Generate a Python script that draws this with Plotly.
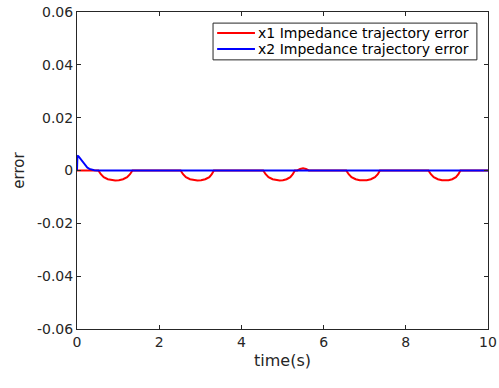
import plotly.graph_objects as go

# x1 impedance trajectory error (red)
t1 = [0, 0.52, 0.58, 0.65, 0.75, 0.85, 0.93, 1.02, 1.12, 1.22, 1.29, 1.35,
      2.52, 2.58, 2.65, 2.75, 2.85, 2.93, 3.02, 3.12, 3.22, 3.28, 3.33,
      4.53, 4.59, 4.66, 4.76, 4.86, 4.93, 5.01, 5.10, 5.19, 5.25, 5.30,
      5.36, 5.43, 5.50, 5.57, 5.64,
      6.55, 6.61, 6.68, 6.78, 6.88, 6.96, 7.05, 7.15, 7.25, 7.32, 7.37,
      8.55, 8.61, 8.68, 8.78, 8.88, 8.95, 9.04, 9.13, 9.22, 9.28, 9.33,
      10]
e1 = [0, 0, -0.0014, -0.0025, -0.0033, -0.0037, -0.0038, -0.0037, -0.0033, -0.0025, -0.0014, 0,
      0, -0.0014, -0.0025, -0.0033, -0.0037, -0.0038, -0.0037, -0.0033, -0.0025, -0.0014, 0,
      0, -0.0014, -0.0025, -0.0033, -0.0037, -0.0038, -0.0037, -0.0033, -0.0025, -0.0014, 0,
      0, 0.0006, 0.0008, 0.0006, 0,
      0, -0.0014, -0.0025, -0.0033, -0.0037, -0.0038, -0.0037, -0.0033, -0.0025, -0.0014, 0,
      0, -0.0014, -0.0025, -0.0033, -0.0037, -0.0038, -0.0037, -0.0033, -0.0025, -0.0014, 0,
      0]

# x2 impedance trajectory error (blue)
t2 = [0, 0.01, 0.04, 0.08, 0.12, 0.16, 0.2, 0.25, 0.3, 0.36, 0.42, 0.5, 10]
e2 = [0, 0.0056, 0.0053, 0.0045, 0.0035, 0.0026, 0.0018, 0.0011, 0.0006, 0.0003, 0.0001, 0, 0]

series_names = ["x1 Impedance trajectory error", "x2 Impedance trajectory error"]
series_colors = ["#ff0000", "#0000ff"]

yticks = [-0.06, -0.04, -0.02, 0, 0.02, 0.04, 0.06]
yticklabels = ["-0.06", "-0.04", "-0.02", "0", "0.02", "0.04", "0.06"]
xticks = [0, 2, 4, 6, 8, 10]

font_family = "DejaVu Sans, Arial, sans-serif"
txt = "#262626"

fig = go.Figure()
fig.add_trace(go.Scatter(x=t1, y=e1, mode="lines", name=series_names[0], showlegend=False,
                         line=dict(color=series_colors[0], width=2)))
fig.add_trace(go.Scatter(x=t2, y=e2, mode="lines", name=series_names[1], showlegend=False,
                         line=dict(color=series_colors[1], width=2)))

axis_common = dict(showgrid=False, zeroline=False, showline=True, linecolor=txt,
                   linewidth=1, mirror="ticks", ticks="inside", ticklen=4,
                   tickcolor=txt, tickfont=dict(size=14, color=txt, family=font_family),
                   automargin=False)

fig.update_layout(
    width=499, height=388,
    margin=dict(l=77, r=11, t=12, b=59),
    plot_bgcolor="white", paper_bgcolor="white",
    font=dict(family=font_family, color=txt),
    xaxis=dict(range=[0, 10], tickvals=xticks,
               title=dict(text="time(s)", font=dict(size=16, color=txt), standoff=6),
               **axis_common),
    yaxis=dict(range=[-0.06, 0.06], tickvals=yticks, ticktext=yticklabels,
               title=dict(text="error", font=dict(size=15, color=txt), standoff=8),
               **axis_common),
    showlegend=False,
)

# compact MATLAB-style legend box (paper coordinates)
fig.add_shape(type="rect", xref="paper", yref="paper", x0=0.331, x1=0.973, y0=0.849, y1=0.965,
              line=dict(color=txt, width=1), fillcolor="white", layer="above")
legend_rows_y = [0.934, 0.883]
for name, color, ly in zip(series_names, series_colors, legend_rows_y):
    fig.add_shape(type="line", xref="paper", yref="paper", x0=0.341, x1=0.433, y0=ly, y1=ly,
                  line=dict(color=color, width=2), layer="above")
    fig.add_annotation(xref="paper", yref="paper", x=0.436, y=ly, text=name, showarrow=False,
                       xanchor="left", yanchor="middle",
                       font=dict(size=14, color="#000000", family=font_family))

fig.write_html("out.html", config={"displayModeBar": False},
               post_script="document.body.style.margin='0';")
